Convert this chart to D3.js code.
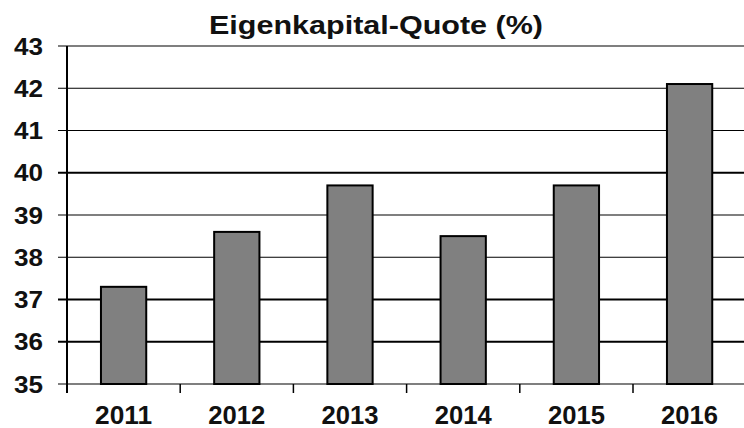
<!DOCTYPE html>
<html>
<head>
<meta charset="utf-8">
<script src="https://cdn.jsdelivr.net/npm/d3@7"></script>
<style>
    body { margin: 0; background: #fff; }
    svg { display: block; font-family: "Liberation Sans", Arial, sans-serif; }
</style>
</head>
<body>
<div id="chart"></div>
<script>
// chart data
var years = ["2011", "2012", "2013", "2014", "2015", "2016"];
var quote = [37.3, 38.6, 39.7, 38.5, 39.7, 42.1];
var yTicks = [35, 36, 37, 38, 39, 40, 41, 42, 43];
var thickLines = [36, 37, 40]; // these gridlines look heavier in the original
var title = "Eigenkapital-Quote (%)";

var width = 744;
var height = 428;
var plotLeft = 67, plotTop = 46, plotBottom = 384;

var svg = d3.select("#chart")
    .append("svg")
    .attr("width", width)
    .attr("height", height);

var x = d3.scaleBand()
    .domain(years)
    .range([plotLeft, plotLeft + 6 * 113.2])
    .padding(0);

var y = d3.scaleLinear()
    .domain([35, 43])
    .range([plotBottom, plotTop]);

// gridlines
svg.append("g")
    .selectAll("line")
    .data(yTicks)
    .enter().append("line")
    .attr("x1", plotLeft - 9)
    .attr("x2", width)
    .attr("y1", function (d) { return y(d); })
    .attr("y2", function (d) { return y(d); })
    .style("stroke", "#000")
    .style("stroke-width", function (d) {
        return thickLines.indexOf(d) >= 0 ? 2 : 1.2;
    });

// y labels
svg.append("g")
    .selectAll("text")
    .data(yTicks)
    .enter().append("text")
    .attr("x", 43)
    .attr("y", function (d) { return y(d); })
    .attr("dy", "0.36em")
    .attr("text-anchor", "end")
    .attr("textLength", 29)
    .attr("lengthAdjust", "spacingAndGlyphs")
    .style("font-size", "24px")
    .style("font-weight", "bold")
    .style("fill", "#111")
    .text(function (d) { return d; });

// bars
var barW = x.bandwidth() * 0.4;
svg.append("g")
    .selectAll("rect")
    .data(quote)
    .enter().append("rect")
    .attr("x", function (d, i) { return x(years[i]) + (x.bandwidth() - barW) / 2; })
    .attr("y", function (d) { return y(d); })
    .attr("width", barW)
    .attr("height", function (d) { return y(35) - y(d); })
    .style("fill", "#808080")
    .style("stroke", "#000")
    .style("stroke-width", 2);

// y axis line
svg.append("line")
    .attr("x1", plotLeft).attr("x2", plotLeft)
    .attr("y1", plotTop).attr("y2", plotBottom + 9)
    .style("stroke", "#000")
    .style("stroke-width", 2);

// x ticks between categories
svg.append("g")
    .selectAll("line")
    .data(years.slice(1))
    .enter().append("line")
    .attr("x1", function (d) { return x(d); })
    .attr("x2", function (d) { return x(d); })
    .attr("y1", plotBottom)
    .attr("y2", plotBottom + 9)
    .style("stroke", "#000")
    .style("stroke-width", 1.5);

// x labels
svg.append("g")
    .selectAll("text")
    .data(years)
    .enter().append("text")
    .attr("x", function (d) { return x(d) + x.bandwidth() / 2; })
    .attr("y", 424)
    .attr("text-anchor", "middle")
    .attr("textLength", 57)
    .attr("lengthAdjust", "spacingAndGlyphs")
    .style("font-size", "25px")
    .style("font-weight", "bold")
    .style("fill", "#111")
    .text(function (d) { return d; });

// title
svg.append("text")
    .attr("x", 376)
    .attr("y", 34)
    .attr("text-anchor", "middle")
    .attr("textLength", 334)
    .attr("lengthAdjust", "spacingAndGlyphs")
    .style("font-size", "25px")
    .style("font-weight", "bold")
    .style("fill", "#111")
    .text(title);
</script>
</body>
</html>
